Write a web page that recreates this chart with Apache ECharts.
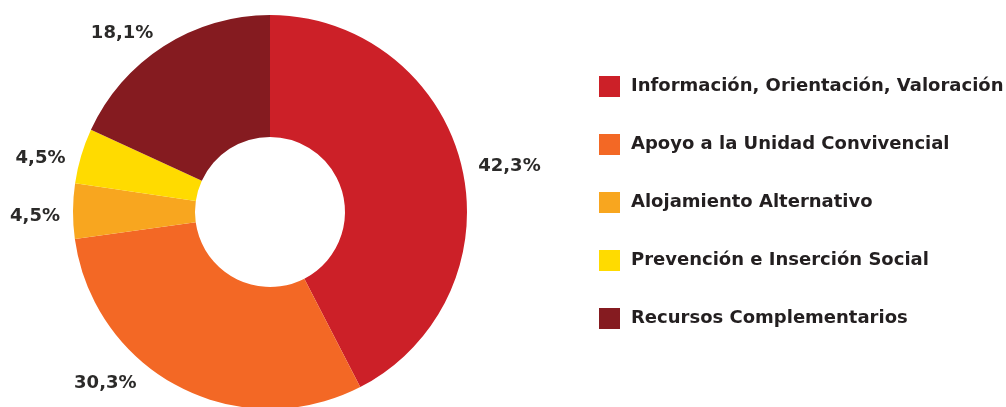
<!DOCTYPE html>
<html>
<head>
<meta charset="utf-8">
<script src="https://cdn.jsdelivr.net/npm/echarts@6/dist/echarts.min.js"></script>
<style>
  html, body { margin: 0; padding: 0; background: #fff; }
  #chart { width: 1006px; height: 407px; }
</style>
</head>
<body>
<div id="chart"></div>
<script>
// categorias y porcentajes
var categories = [
  'Información, Orientación, Valoración',
  'Apoyo a la Unidad Convivencial',
  'Alojamiento Alternativo',
  'Prevención e Inserción Social',
  'Recursos Complementarios'
];
var values = [42.3, 30.3, 4.5, 4.5, 18.1];
var colors = ['#cc2028', '#f36825', '#f8a61f', '#ffdb00', '#851b20'];

var myChart = echarts.init(document.getElementById('chart'));

// ajuste fino de las etiquetas
var labelShift = [[0, 3], [-30, -11], [4, 5], [1, 5], [3, -6]];

var pieData = [];
for (var i = 0; i < categories.length; i++) {
  pieData.push({
    name: categories[i],
    value: values[i],
    itemStyle: { color: colors[i] },
    label: { offset: labelShift[i] }
  });
}

var option = {
  animation: false,
  textStyle: { fontFamily: 'DejaVu Sans, sans-serif' },
  legend: {
    orient: 'vertical',
    left: 594,
    top: 71,
    itemWidth: 21,
    itemHeight: 21,
    itemGap: 37,
    icon: 'rect',
    textStyle: {
      fontFamily: 'DejaVu Sans',
      fontSize: 18,
      fontWeight: 'bold',
      color: '#231f20',
      padding: [2, 0, 0, 6]
    },
    data: categories
  },
  series: [
    {
      type: 'pie',
      center: [270, 212],
      radius: [75, 197],
      startAngle: 90,
      clockwise: true,
      avoidLabelOverlap: false,
      label: {
        show: true,
        position: 'outside',
        fontFamily: 'DejaVu Sans',
        fontSize: 18,
        fontWeight: 'bold',
        color: '#2b2a29',
        padding: [6, 0, 0, 0],
        formatter: function (p) {
          return p.value.toFixed(1).replace('.', ',') + '%';
        }
      },
      labelLine: { show: false, length: 8, length2: 4 },
      data: pieData
    }
  ]
};
myChart.setOption(option);
</script>
</body>
</html>
